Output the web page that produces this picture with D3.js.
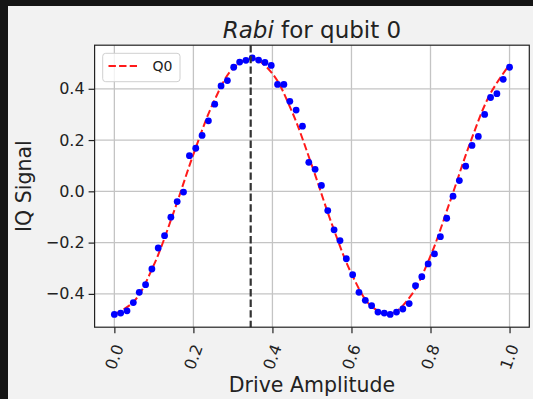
<html>
<head>
<meta charset="utf-8">
<script src="https://d3js.org/d3.v7.min.js"></script>
<style>
  body { margin: 0; background: #151515; }
  svg text { font-family: "DejaVu Sans", sans-serif; fill: #222; }
</style>
</head>
<body>
<script>
var amplitudes = [0.000, 0.016, 0.032, 0.048, 0.063, 0.079, 0.095, 0.111, 0.127, 0.143,
  0.159, 0.175, 0.190, 0.206, 0.222, 0.238, 0.254, 0.270, 0.286, 0.302,
  0.317, 0.333, 0.349, 0.365, 0.381, 0.397, 0.413, 0.429, 0.444, 0.460,
  0.476, 0.492, 0.508, 0.524, 0.540, 0.556, 0.571, 0.587, 0.603, 0.619,
  0.635, 0.651, 0.667, 0.683, 0.698, 0.714, 0.730, 0.746, 0.762, 0.778,
  0.794, 0.810, 0.825, 0.841, 0.857, 0.873, 0.889, 0.905, 0.921, 0.937,
  0.952, 0.968, 0.984, 1.000];
var signal = [-0.480, -0.475, -0.466, -0.434, -0.394, -0.364, -0.303, -0.221, -0.173, -0.101,
  -0.040, -0.003, 0.139, 0.168, 0.218, 0.275, 0.340, 0.411, 0.432, 0.484,
  0.504, 0.511, 0.520, 0.512, 0.503, 0.491, 0.417, 0.417, 0.351, 0.317,
  0.254, 0.113, 0.086, 0.023, -0.075, -0.150, -0.192, -0.263, -0.325, -0.394,
  -0.425, -0.446, -0.471, -0.475, -0.480, -0.471, -0.459, -0.438, -0.368, -0.333,
  -0.283, -0.244, -0.177, -0.105, -0.019, 0.042, 0.098, 0.179, 0.214, 0.300,
  0.366, 0.381, 0.437, 0.484];

// fitted curve as drawn (red dashed)
var fitX = [0.00, 0.05, 0.10, 0.15, 0.20, 0.25, 0.30, 0.35, 0.40, 0.45, 0.50,
  0.55, 0.60, 0.65, 0.70, 0.75, 0.80, 0.85, 0.90, 0.95, 1.00];
var fitY = [-0.480, -0.429, -0.287, -0.082, 0.144, 0.344, 0.479, 0.519, 0.459, 0.309, 0.100,
  -0.126, -0.321, -0.448, -0.478, -0.408, -0.252, -0.037, 0.188, 0.377, 0.494];

var piAmplitude = 0.345;
var xTicks = [0.0, 0.2, 0.4, 0.6, 0.8, 1.0];
var yTicks = [-0.4, -0.2, 0.0, 0.2, 0.4];

var W = 533, H = 399;
var pLeft = 94.6, pRight = 529.3, pTop = 45.2, pBottom = 327.2;

var svg = d3.select("body").append("svg")
  .attr("width", W).attr("height", H)
  .style("display", "block");

svg.append("rect").attr("width", W).attr("height", H).attr("fill", "#151515");
svg.append("rect").attr("x", 8).attr("y", 6)
  .attr("width", W - 8).attr("height", H - 6).attr("fill", "#f2f2f2");

// matplotlib style 5% margins
var xe = d3.extent(amplitudes), ye = d3.extent(signal);
var xm = (xe[1] - xe[0]) * 0.05, ym = (ye[1] - ye[0]) * 0.05;

var x = d3.scaleLinear().domain([xe[0] - xm, xe[1] + xm]).range([pLeft, pRight]);
var y = d3.scaleLinear().domain([ye[0] - ym, ye[1] + ym]).range([pBottom, pTop]);

svg.append("rect")
  .attr("x", pLeft).attr("y", pTop)
  .attr("width", pRight - pLeft).attr("height", pBottom - pTop)
  .attr("fill", "#fff");

// grid
var grid = svg.append("g").attr("stroke", "#c4c4c4").attr("stroke-width", 1.3);
grid.selectAll(".gx").data(xTicks).enter().append("line")
  .attr("x1", function (d) { return x(d); }).attr("x2", function (d) { return x(d); })
  .attr("y1", pTop).attr("y2", pBottom);
grid.selectAll(".gy").data(yTicks).enter().append("line")
  .attr("y1", function (d) { return y(d); }).attr("y2", function (d) { return y(d); })
  .attr("x1", pLeft).attr("x2", pRight);

// fit line
var line = d3.line()
  .x(function (d) { return x(d[0]); })
  .y(function (d) { return y(d[1]); })
  .curve(d3.curveCatmullRom);

svg.append("path")
  .datum(d3.zip(fitX, fitY))
  .attr("d", line)
  .attr("fill", "none")
  .attr("stroke", "#ff1a1a")
  .attr("stroke-width", 2)
  .attr("stroke-dasharray", "7.4,3.2");

// data points
svg.append("g").selectAll("circle")
  .data(d3.zip(amplitudes, signal))
  .enter().append("circle")
  .attr("cx", function (d) { return x(d[0]); })
  .attr("cy", function (d) { return y(d[1]); })
  .attr("r", 3.4)
  .attr("fill", "#0000ff");

// pi pulse marker
svg.append("line")
  .attr("x1", x(piAmplitude)).attr("x2", x(piAmplitude))
  .attr("y1", pTop).attr("y2", pBottom)
  .attr("stroke", "#333")
  .attr("stroke-width", 2.2)
  .attr("stroke-dasharray", "7.4,3.2");

// spines
svg.append("rect")
  .attr("x", pLeft).attr("y", pTop)
  .attr("width", pRight - pLeft).attr("height", pBottom - pTop)
  .attr("fill", "none").attr("stroke", "#222").attr("stroke-width", 1.2);

// x axis
var xAxis = svg.append("g")
  .attr("transform", "translate(0," + pBottom + ")")
  .call(d3.axisBottom(x).tickValues(xTicks).tickSize(6).tickFormat(""));
xAxis.select(".domain").remove();
xAxis.selectAll("line").attr("stroke", "#222").attr("stroke-width", 1.2);

svg.append("g").selectAll("text")
  .data(xTicks).enter().append("text")
  .attr("transform", function (d) { return "translate(" + x(d) + ",357) rotate(-70)"; })
  .attr("text-anchor", "middle")
  .attr("dominant-baseline", "central")
  .style("font-size", "16px")
  .text(d3.format(".1f"));

// y axis
var yAxis = svg.append("g")
  .attr("transform", "translate(" + pLeft + ",0)")
  .call(d3.axisLeft(y).tickValues(yTicks).tickSize(6).tickPadding(4).tickFormat(d3.format(".1f")));
yAxis.select(".domain").remove();
yAxis.selectAll("line").attr("stroke", "#222").attr("stroke-width", 1.2);
yAxis.selectAll("text")
  .style("font-size", "16px")
  .style("font-family", "DejaVu Sans")
  .attr("fill", "#222");

// labels
svg.append("text")
  .attr("x", (pLeft + pRight) / 2).attr("y", 37.5)
  .attr("text-anchor", "middle")
  .style("font-size", "23px")
  .html('<tspan font-style="italic">Rabi</tspan> for qubit 0');

svg.append("text")
  .attr("x", (pLeft + pRight) / 2).attr("y", 392)
  .attr("text-anchor", "middle")
  .style("font-size", "20.5px")
  .text("Drive Amplitude");

svg.append("text")
  .attr("transform", "translate(31," + (pTop + pBottom) / 2 + ") rotate(-90)")
  .attr("text-anchor", "middle")
  .style("font-size", "20.5px")
  .text("IQ Signal");

// legend
var lg = svg.append("g");
lg.append("rect")
  .attr("x", 102.7).attr("y", 53.3)
  .attr("width", 77.3).attr("height", 28.4)
  .attr("rx", 3)
  .attr("fill", "#fff").attr("fill-opacity", 0.8)
  .attr("stroke", "#d0d0d0");
lg.append("line")
  .attr("x1", 108.5).attr("x2", 137)
  .attr("y1", 66).attr("y2", 66)
  .attr("stroke", "#ff1a1a").attr("stroke-width", 2)
  .attr("stroke-dasharray", "7.4,3.2");
lg.append("text")
  .attr("x", 152.5).attr("y", 66)
  .attr("dominant-baseline", "central")
  .style("font-size", "14px")
  .text("Q0");
</script>
</body>
</html>
